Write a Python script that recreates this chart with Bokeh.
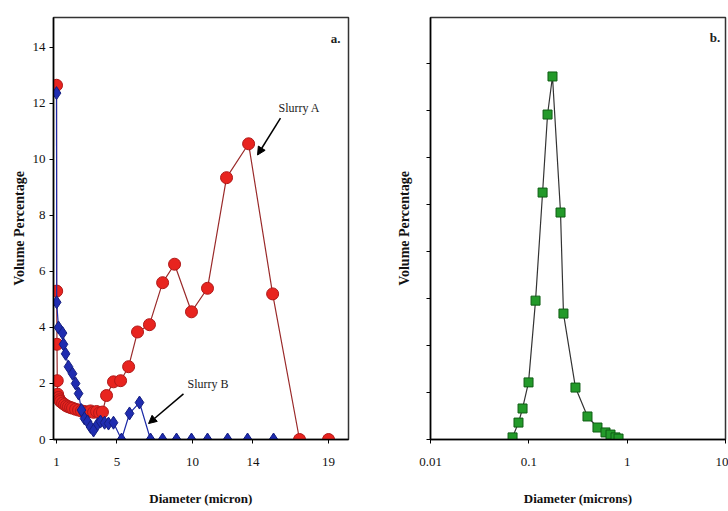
from bokeh.plotting import figure
from bokeh.layouts import row
from bokeh.models import Range1d, FixedTicker, Arrow, NormalHead, Label, CustomJSTickFormatter
from bokeh.embed import file_html
from bokeh.resources import INLINE

# ---------------- data: panel a ----------------
slurry_a_x = [1.0, 1.01, 1.03, 1.05, 1.07, 1.13, 1.20, 1.26, 1.40, 1.53, 1.66, 1.79, 1.93, 2.06,
              2.26, 2.46, 2.65, 2.85, 3.05, 3.25, 3.45, 3.65, 3.85, 4.04,
              4.31, 4.77, 5.24, 5.77, 6.36, 7.15, 8.02, 8.81, 9.93, 10.99, 12.25, 13.71,
              15.30, 17.08, 19.0]
slurry_a_y = [12.65, 5.3, 3.4, 2.1, 1.62, 1.5, 1.42, 1.36, 1.3, 1.25, 1.2, 1.17, 1.14, 1.12,
              1.08, 1.05, 1.02, 1.0, 0.98, 1.02, 0.97, 1.0, 0.95, 0.98,
              1.57, 2.06, 2.1, 2.6, 3.84, 4.1, 5.6, 6.26, 4.56, 5.4, 9.35, 10.56,
              5.2, 0.0, 0.0]

slurry_b_x = [1.0, 1.01, 1.13, 1.40, 1.46, 1.60, 1.79, 2.06, 2.26, 2.46, 2.65, 2.85, 3.05, 3.25,
              3.45, 3.72, 3.91, 4.18, 4.44, 4.77, 5.30, 5.83, 6.49, 7.22, 8.02, 8.94,
              9.93, 10.99, 12.32, 13.64, 15.36]
slurry_b_y = [12.37, 4.9, 4.0, 3.8, 3.4, 3.06, 2.6, 2.35, 2.0, 1.64, 1.05, 0.75, 0.64, 0.45,
              0.32, 0.55, 0.64, 0.6, 0.57, 0.6, 0.0, 0.93, 1.32, 0.0, 0.0, 0.0,
              0.0, 0.0, 0.0, 0.0, 0.0]

a_x_ticks = [1, 5, 10, 14, 19]
a_y_ticks = [0, 2, 4, 6, 8, 10, 12, 14]

# ---------------- data: panel b ----------------
b_x = [0.0683, 0.0785, 0.0863, 0.0993, 0.117, 0.138, 0.155, 0.174, 0.210, 0.225,
       0.298, 0.395, 0.499, 0.602, 0.677, 0.761, 0.817]
b_y = [0.09, 0.72, 1.32, 2.43, 5.91, 10.51, 13.83, 15.45, 9.66, 5.36,
       2.21, 0.98, 0.51, 0.30, 0.21, 0.09, 0.04]

b_x_ticks = [0.01, 0.1, 1, 10]
b_y_ticks = [0, 2, 4, 6, 8, 10, 12, 14, 16]

SERIF = "Liberation Serif"


def style_axes(p):
    for ax in (p.xaxis[0], p.yaxis[0]):
        ax.axis_line_color = "black"
        ax.axis_line_width = 1.5
        ax.major_tick_line_color = "black"
        ax.major_tick_in = 0
        ax.major_tick_out = 4
        ax.minor_tick_line_color = None
        ax.major_label_text_font = SERIF
        ax.major_label_text_font_size = "13px"
        ax.major_label_text_color = "#111111"
        ax.axis_label_text_font = SERIF
        ax.axis_label_text_font_style = "bold"
        ax.axis_label_text_color = "#111111"
    p.xaxis[0].axis_label_text_font_size = "13px"
    p.yaxis[0].axis_label_text_font_size = "14px"
    p.xaxis[0].major_label_standoff = 14
    p.xaxis[0].axis_label_standoff = 22
    p.grid.visible = False
    p.outline_line_color = "#333333"
    p.outline_line_width = 1.5


# ---------------- panel a ----------------
pa = figure(width=364, height=511, output_backend="svg", toolbar_location=None,
            x_range=Range1d(0.8, 20.32), y_range=Range1d(0, 15.07),
            min_border_left=53, min_border_right=16, min_border_top=17, min_border_bottom=70,
            x_axis_label="Diameter (micron)", y_axis_label="Volume Percentage")
style_axes(pa)
pa.xaxis[0].ticker = FixedTicker(ticks=a_x_ticks)
pa.yaxis[0].ticker = FixedTicker(ticks=a_y_ticks)
pa.yaxis[0].major_label_standoff = 4
pa.yaxis[0].axis_label_standoff = 3

pa.line(slurry_a_x, slurry_a_y, line_color="#9a2a2a", line_width=1.2)
pa.scatter(slurry_a_x, slurry_a_y, marker="circle", size=12, fill_color="#e8241f",
           line_color="#b01818", line_width=1)
pa.line(slurry_b_x, slurry_b_y, line_color="#1c2aa8", line_width=1.2)
pa.scatter(slurry_b_x, slurry_b_y, marker="diamond", size=13, fill_color="#1f2cb0",
           line_color="#141e80", line_width=1)

pa.add_layout(Label(x=15.69, y=11.83, text="Slurry A", text_font=SERIF, text_font_size="12px",
                    text_baseline="middle", text_color="#222222"))
pa.add_layout(Arrow(end=NormalHead(size=8, fill_color="black", line_color="black"),
                    x_start=15.82, y_start=11.48, x_end=14.30, y_end=10.16,
                    line_color="black", line_width=1.5))
pa.add_layout(Label(x=9.67, y=1.99, text="Slurry B", text_font=SERIF, text_font_size="12px",
                    text_baseline="middle", text_color="#222222"))
pa.add_layout(Arrow(end=NormalHead(size=8, fill_color="black", line_color="black"),
                    x_start=9.40, y_start=1.63, x_end=7.09, y_end=0.57,
                    line_color="black", line_width=1.5))
pa.add_layout(Label(x=19.46, y=14.32, text="a.", text_font=SERIF, text_font_size="13px",
                    text_font_style="bold", text_align="center", text_baseline="middle",
                    text_color="#222222"))

# ---------------- panel b ----------------
pb = figure(width=364, height=511, output_backend="svg", toolbar_location=None,
            x_axis_type="log", x_range=Range1d(0.01, 10), y_range=Range1d(0, 17.96),
            min_border_left=66, min_border_right=3, min_border_top=17, min_border_bottom=72,
            x_axis_label="Diameter (microns)", y_axis_label="Volume Percentage")
style_axes(pb)
pb.xaxis[0].ticker = FixedTicker(ticks=b_x_ticks)
pb.xaxis[0].formatter = CustomJSTickFormatter(code="return tick.toString();")
pb.yaxis[0].ticker = FixedTicker(ticks=b_y_ticks)
pb.yaxis[0].formatter = CustomJSTickFormatter(code="return '';")
pb.yaxis[0].major_label_standoff = 0
pb.yaxis[0].axis_label_standoff = 15

pb.line(b_x, b_y, line_color="#333333", line_width=1.2)
pb.scatter(b_x, b_y, marker="square", size=9, fill_color="#239a2a",
           line_color="#0f5e14", line_width=1)
pb.add_layout(Label(x=7.8, y=17.1, text="b.", text_font=SERIF, text_font_size="13px",
                    text_font_style="bold", text_align="center", text_baseline="middle",
                    text_color="#222222"))

layout = row(pa, pb)
open("out.html", "w").write(file_html(layout, INLINE))
